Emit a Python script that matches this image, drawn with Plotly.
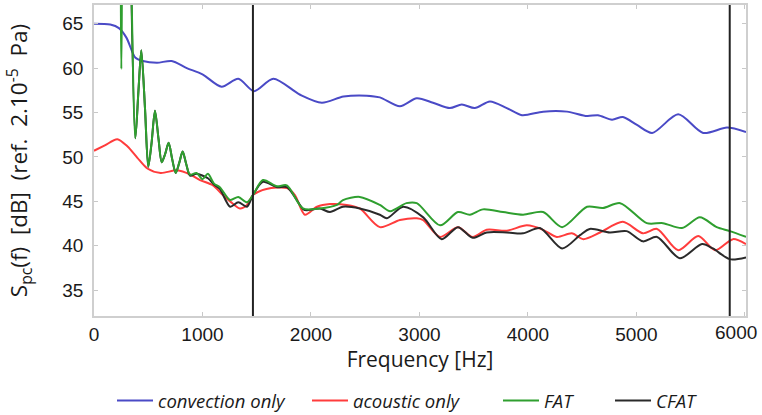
import plotly.graph_objects as go

# ---------------- data ----------------
conv_f = [0, 150, 230, 300, 380, 450, 580, 716, 855, 1000, 1176, 1330, 1475, 1653, 1900, 2100,
          2300, 2515, 2635, 2820, 2975, 3125, 3280, 3390, 3510, 3650, 3805, 3945, 4140, 4360,
          4545, 4645, 4775, 4875, 5005, 5145, 5385, 5615, 5835, 6010]
conv_v = [65.0, 64.9, 64.5, 63.4, 61.2, 60.8, 60.6, 60.8, 60.0, 59.3, 57.9, 58.8, 57.4, 58.8, 57.0, 56.1,
          56.8, 56.9, 56.7, 55.7, 56.6, 56.1, 55.5, 55.9, 55.5, 56.25, 55.5, 54.7, 55.1, 55.1,
          54.6, 54.7, 54.2, 54.5, 53.6, 52.7, 54.8, 52.7, 53.3, 52.8]

acou_f = [0, 100, 215, 307, 400, 492, 614, 768, 891, 977, 1097, 1180, 1255, 1345, 1410, 1465, 1590,
          1778, 1852, 1944, 2055, 2175, 2330, 2450, 2635, 2820, 2975, 3035, 3190, 3355, 3490,
          3620, 3805, 3990, 4140, 4265, 4405, 4510, 4665, 4875, 5060, 5190, 5385, 5570, 5725,
          5890, 6010]
acou_v = [50.7, 51.3, 52.0, 51.2, 49.9, 48.7, 48.2, 48.5, 48.0, 47.4, 46.8, 45.8, 45.0, 44.2, 44.6, 45.7, 46.4,
          46.5, 45.7, 43.5, 44.4, 44.7, 44.6, 44.2, 42.1, 42.9, 43.1, 42.9, 41.0, 42.1, 41.0,
          41.8, 41.7, 42.3, 41.8, 41.0, 41.4, 40.75, 41.5, 42.7, 41.4, 41.9, 39.5, 41.1, 39.5,
          40.75, 40.2]

fat_f = [0, 200, 238, 252, 266, 300, 335, 381, 410, 436, 470, 500, 530, 562, 595, 624, 655, 688,
         720, 753, 785, 817, 850, 885, 945, 1000, 1050, 1106, 1160, 1255, 1330, 1410, 1465, 1557,
         1686, 1778, 1926, 2082, 2240, 2295, 2450, 2635, 2730, 2880, 2975, 3190, 3355, 3465,
         3585, 3770, 3955, 4140, 4315, 4545, 4690, 4850, 5095, 5245, 5420, 5585, 5740, 5860, 6010]
fat_v = [90, 90, 80, 59.9, 80, 90, 75, 52.1, 57.5, 62.0, 55.5, 48.9, 51.5, 55.2, 52.0, 49.4, 50.3, 51.6,
         49.8, 48.2, 49.3, 50.6, 49.2, 48.0, 48.2, 47.5, 48.1, 47.0, 46.6, 45.15, 45.5, 44.9, 45.7, 47.4,
         46.7, 46.8, 44.2, 44.2, 44.6, 45.15, 45.5, 44.6, 43.9, 44.8, 44.8, 42.3, 43.8, 43.5,
         44.1, 43.8, 43.5, 43.8, 42.1, 44.4, 44.25, 44.8, 42.55, 42.55, 42.0, 43.2, 42.1, 41.65, 41.0]

cfat_f = [335, 381, 410, 436, 470, 500, 530, 562, 595, 624, 655, 688, 720, 753, 785, 817, 850,
          885, 945, 1050, 1106, 1160, 1255, 1330, 1410, 1465, 1557, 1686, 1778, 1930, 1960, 2082,
          2175, 2295, 2450, 2635, 2700, 2850, 3035, 3205, 3355, 3490, 3620, 3805, 3955, 4110,
          4315, 4480, 4570, 4755, 4910, 5060, 5190, 5400, 5605, 5705, 5860, 6010]
cfat_v = [75, 52.1, 57.5, 62.0, 55.5, 48.9, 51.5, 55.2, 52.0, 49.4, 50.3, 51.6, 49.8, 48.2, 49.3, 50.6, 49.2,
          47.9, 48.1, 47.6, 46.9, 46.4, 44.4, 44.9, 44.4, 45.7, 47.2, 46.6, 46.6, 44.1, 44.0, 44.2,
          43.8, 44.4, 44.2, 43.5, 43.1, 44.4, 43.2, 40.75, 42.1, 40.9, 41.5, 41.5, 41.4, 42.0,
          39.7, 41.2, 41.9, 41.5, 41.65, 40.5, 41.0, 38.6, 40.2, 39.7, 38.5, 38.7]

marker_freqs = [1465, 5860]
x_ticks = [0, 1000, 2000, 3000, 4000, 5000, 6000]
x_ticklabels = ["0", "1000", "2000", "3000", "4000", "5000", "6000"]
y_ticks = [35, 40, 45, 50, 55, 60, 65]

names = ["convection only", "acoustic only", "FAT", "CFAT"]
colors = ["#4a4ac6", "#ff3c3c", "#2f9f2f", "#2a2a2a"]

# ---------------- figure ----------------
fig = go.Figure()
series = [(conv_f, conv_v, 0), (acou_f, acou_v, 1), (cfat_f, cfat_v, 3), (fat_f, fat_v, 2)]
legend_ids = ["legend", "legend2", "legend3", "legend4"]
for fx, fy, i in series:
    fig.add_trace(go.Scatter(
        x=fx, y=fy, mode="lines", name=names[i],
        line=dict(color=colors[i], width=2, shape="spline", smoothing=0.8),
        legend=legend_ids[i], showlegend=True,
    ))

for f in marker_freqs:
    fig.add_vline(x=f, line=dict(color="#222222", width=2))

font_tick = "Liberation Sans, Arial, sans-serif"
font_title = "Open Sans, sans-serif"
tick_font = dict(family=font_tick, size=19, color="#1a1a1a")
axis_common = dict(
    showgrid=False, zeroline=False, showline=True, linecolor="#cfcfcf", linewidth=1.5,
    mirror="ticks", ticks="inside", ticklen=4, tickcolor="#c8c8c8", tickwidth=1,
    tickfont=tick_font,
)

# last x tick label is placed as an annotation, nudged left so it stays inside the page
shown_ticktext = x_ticklabels[:-1] + [""]

leg_x_px = [112, 307, 498, 610]
plot_l, plot_w = 94, 652
plot_t, plot_h = 5, 311
leg_top_px = 382
legend_layouts = {}
for lid, px in zip(legend_ids, leg_x_px):
    legend_layouts[lid] = dict(
        x=(px - plot_l) / plot_w, y=(plot_t + plot_h - leg_top_px) / plot_h,
        xanchor="left", yanchor="top", orientation="h", bgcolor="rgba(0,0,0,0)",
        borderwidth=0, itemwidth=36,
        font=dict(family="Open Sans, sans-serif", size=18.5, color="#1a1a1a", style="italic"),
    )

y_title = "S<sub>pc</sub>(f)&nbsp; [dB]&nbsp; (ref.&nbsp; 2.10<sup>-5</sup>&nbsp; Pa)"

fig.update_layout(
    width=762, height=415,
    margin=dict(l=94, r=16, t=5, b=99, autoexpand=False),
    paper_bgcolor="white", plot_bgcolor="white",
    xaxis=dict(range=[0, 6010], tickvals=x_ticks, ticktext=shown_ticktext, ticklabelstandoff=0,
               title=dict(text="Frequency [Hz]", standoff=4,
                          font=dict(family=font_title, size=21, color="#1a1a1a")),
               **axis_common),
    yaxis=dict(range=[32.1, 67.1], tickvals=y_ticks, ticklabelstandoff=5,
               title=dict(text=y_title, standoff=28,
                          font=dict(family=font_title, size=22.5, color="#1a1a1a")),
               **axis_common),
    **legend_layouts,
)

fig.add_annotation(x=x_ticks[-1], y=0, xref="x", yref="paper", text=x_ticklabels[-1],
                   showarrow=False, xanchor="center", yanchor="top", xshift=-9, yshift=-4,
                   font=tick_font)

fig.write_html("out.html")
